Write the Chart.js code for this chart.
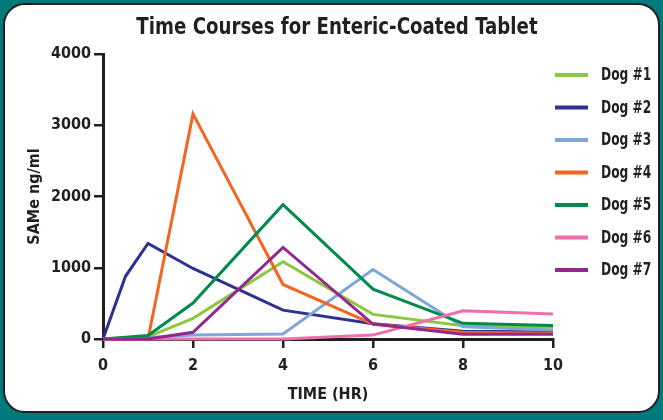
<!DOCTYPE html>
<html>
<head>
<meta charset="utf-8">
<script src="https://cdn.jsdelivr.net/npm/chart.js@4.4.1/dist/chart.umd.min.js"></script>
<style>
  html, body { margin: 0; padding: 0; width: 663px; height: 420px; background: #00797c; overflow: hidden; }
  .frame {
    position: absolute; left: 3px; top: 3px; width: 653px; height: 406px;
    background: #fff; border: 2.5px solid #231f20; border-radius: 22px;
  }
  #myChart { position: absolute; left: 0; top: 0; }
</style>
</head>
<body>
<div class="frame"></div>
<canvas id="myChart" width="663" height="420"></canvas>
<script>
// sampling times (hr) shared by every dog; null = not sampled
const times = [0, 0.5, 1, 2, 4, 6, 8, 10];

const dogLabels = ['Dog #1', 'Dog #2', 'Dog #3', 'Dog #4', 'Dog #5', 'Dog #6', 'Dog #7'];
const dogColors = ['#8dc63f', '#2e3192', '#7ea7d8', '#f26522', '#008a4b', '#f06eaa', '#92278f'];

const dog1 = [0, null, 30, 290, 1085, 345, 185, 170];
const dog2 = [0, 880, 1340, 990, 405, 215, 110, 100];
const dog3 = [0, null, 20, 55, 70, 975, 170, 125];
const dog4 = [0, null, 0, 3160, 765, 210, 95, 80];
const dog5 = [0, null, 50, 505, 1885, 700, 220, 190];
const dog6 = [0, null, 0, 0, 0, 55, 395, 350];
const dog7 = [0, null, 0, 95, 1285, 210, 65, 65];

const dogValues = [dog1, dog2, dog3, dog4, dog5, dog6, dog7];

const yTicks = [0, 1000, 2000, 3000, 4000];
const xTicks = [0, 2, 4, 6, 8, 10];

const chartTitle = 'Time Courses for Enteric-Coated Tablet';

const ink = '#231f20';
const fontFamily = "'DejaVu Sans Condensed', 'Liberation Sans Narrow', sans-serif";

Chart.defaults.font.family = fontFamily;
Chart.defaults.font.weight = 'bold';
Chart.defaults.color = ink;

// squeeze text sideways a bit, the original uses a condensed face
function narrowText(ctx, text, x, y, squeeze, align) {
    ctx.save();
    ctx.translate(x, y);
    ctx.scale(squeeze, 1);
    ctx.textAlign = align;
    ctx.fillText(text, 0, 0);
    ctx.restore();
}

// title + legend drawn by hand so they sit where the original has them
const sideLegend = {
    id: 'sideLegend',
    afterDraw(chart) {
        const ctx = chart.ctx;
        ctx.save();
        ctx.fillStyle = ink;
        ctx.textBaseline = 'middle';
        ctx.font = 'bold 23px ' + fontFamily;
        narrowText(ctx, chartTitle, 337, 28, 0.88, 'center');

        ctx.font = 'bold 17px ' + fontFamily;
        chart.data.datasets.forEach((ds, i) => {
            const y = 75 + i * 32.5;
            ctx.strokeStyle = ds.borderColor;
            ctx.lineWidth = 4;
            ctx.beginPath();
            ctx.moveTo(555, y);
            ctx.lineTo(588, y);
            ctx.stroke();
            narrowText(ctx, ds.label, 601, y + 1, 0.8, 'left');
        });
        ctx.restore();
    }
};

const datasets = dogValues.map((vals, i) => ({
    label: dogLabels[i],
    data: vals.map((v, j) => ({ x: times[j], y: v })).filter(p => p.y !== null),
    borderColor: dogColors[i],
    backgroundColor: dogColors[i],
    borderWidth: 3,
    pointRadius: 0,
    tension: 0,
    clip: 4,
    order: dogValues.length - i
}));

const myChart = new Chart(document.getElementById('myChart'), {
    type: 'line',
    data: { datasets: datasets },
    options: {
        responsive: false,
        animation: false,
        layout: { padding: { left: 0, right: 110, top: 54, bottom: 0 } },
        plugins: {
            legend: { display: false },
            tooltip: { enabled: false },
            title: { display: false }
        },
        scales: {
            x: {
                type: 'linear',
                min: 0,
                max: 10,
                afterBuildTicks: s => { s.ticks = xTicks.map(v => ({ value: v })); },
                afterFit: s => { s.height = 81; },
                ticks: { font: { size: 16 }, padding: 8, color: ink, callback: v => String(v) },
                grid: { drawOnChartArea: false, drawTicks: true, tickLength: 9, color: ink, lineWidth: 2.5 },
                border: { color: ink, width: 3 },
                title: {
                    display: true,
                    text: 'TIME (HR)',
                    font: { size: 16, weight: 'bold' },
                    color: ink,
                    padding: { top: 0, bottom: 16 }
                }
            },
            y: {
                min: 0,
                max: 4000,
                afterBuildTicks: s => { s.ticks = yTicks.map(v => ({ value: v })); },
                afterFit: s => { s.width = 103; },
                ticks: { font: { size: 16 }, padding: 3, color: ink, callback: v => String(v) },
                grid: { drawOnChartArea: false, drawTicks: true, tickLength: 9, color: ink, lineWidth: 2.5 },
                border: { color: ink, width: 3 },
                title: {
                    display: true,
                    text: 'SAMe ng/ml',
                    font: { size: 16, weight: 'bold' },
                    color: ink,
                    padding: { top: 25, bottom: 0 }
                }
            }
        }
    },
    plugins: [sideLegend]
});
</script>
</body>
</html>
